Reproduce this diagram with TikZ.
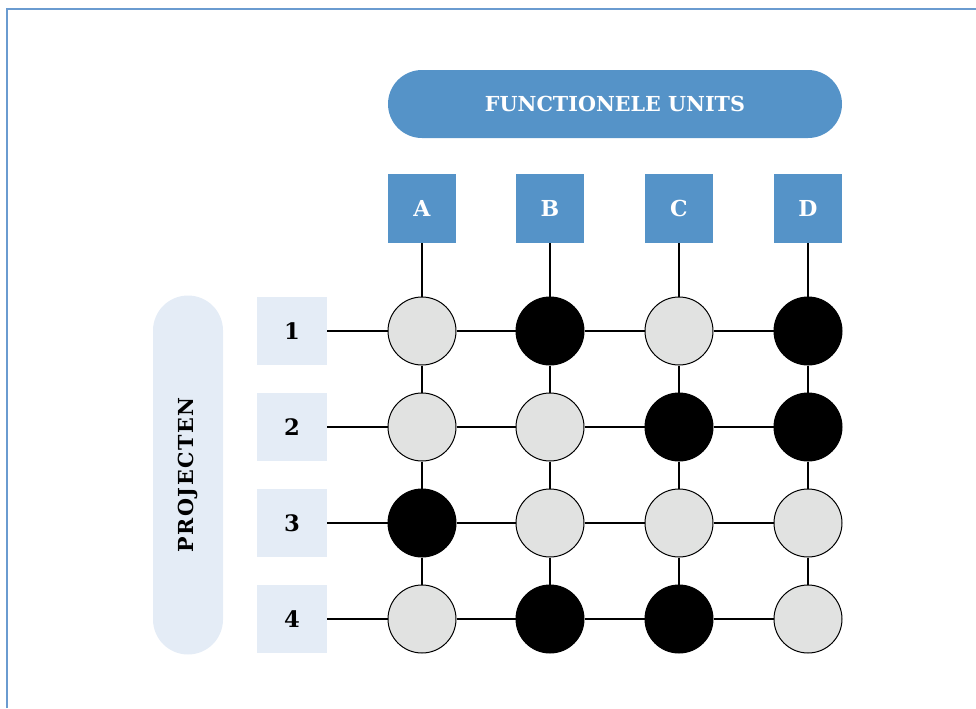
\documentclass[tikz,border=0pt]{standalone}
\usepackage{fontspec}
\setmainfont{DejaVu Serif}
\newfontfamily\spacedfont[LetterSpace=7]{DejaVu Serif}
\usepackage{tikz}

\definecolor{unitblue}{HTML}{5593C8}
\definecolor{projblue}{HTML}{E4ECF6}
\definecolor{dotgrey}{HTML}{E1E2E1}
\definecolor{framecol}{HTML}{6A9BD0}

\begin{document}
\begin{tikzpicture}[x=0.75pt, y=-0.75pt,
  font=\bfseries,
  unit/.style={fill=unitblue, text=white, minimum width=51pt, minimum height=51.75pt, inner sep=0pt, font=\bfseries\fontsize{16.5}{18}\selectfont},
  proj/.style={fill=projblue, text=black, minimum width=52.5pt, minimum height=51pt, inner sep=0pt, font=\bfseries\fontsize{17}{19}\selectfont},
  dot/.style={draw, circle, line width=0.75pt, minimum size=51pt, inner sep=0pt, fill=dotgrey},
  full/.style={dot, fill=black},
  link/.style={line width=0.9pt}]
\useasboundingbox (0,0) rectangle (976,708);
\draw[framecol, line width=1.2pt] (7,708) -- (7,9) -- (976,9);

% headers
\node[fill=unitblue, text=white, rounded corners=25.5pt, minimum width=340.5pt, minimum height=51pt, font=\bfseries\fontsize{15.5}{17}\selectfont] (units) at (615,104) {FUNCTIONELE UNITS};
\node[fill=projblue, rounded corners=26.25pt, minimum width=52.5pt, minimum height=269.25pt] (projects) at (188,475) {};
\node[rotate=90, font=\spacedfont\bfseries\fontsize{15.5}{17}\selectfont] (projlabel) at (188,475) {PROJECTEN};

% columns
\node[unit] (ua) at (422,208.5) {A};
\node[unit] (ub) at (550,208.5) {B};
\node[unit] (uc) at (679,208.5) {C};
\node[unit] (ud) at (808,208.5) {D};

% rows
\node[proj] (p1) at (292,331) {1};
\node[proj] (p2) at (292,427) {2};
\node[proj] (p3) at (292,523) {3};
\node[proj] (p4) at (292,619) {4};

% matrix of dots
\node[dot]  (a1) at (422,331) {};
\node[full] (b1) at (550,331) {};
\node[dot]  (c1) at (679,331) {};
\node[full] (d1) at (808,331) {};

\node[dot]  (a2) at (422,427) {};
\node[dot]  (b2) at (550,427) {};
\node[full] (c2) at (679,427) {};
\node[full] (d2) at (808,427) {};

\node[full] (a3) at (422,523) {};
\node[dot]  (b3) at (550,523) {};
\node[dot]  (c3) at (679,523) {};
\node[dot]  (d3) at (808,523) {};

\node[dot]  (a4) at (422,619) {};
\node[full] (b4) at (550,619) {};
\node[full] (c4) at (679,619) {};
\node[dot]  (d4) at (808,619) {};

% connections
\draw[link] (p1) -- (a1) -- (b1) -- (c1) -- (d1);
\draw[link] (p2) -- (a2) -- (b2) -- (c2) -- (d2);
\draw[link] (p3) -- (a3) -- (b3) -- (c3) -- (d3);
\draw[link] (p4) -- (a4) -- (b4) -- (c4) -- (d4);
\draw[link] (ua) -- (a1) -- (a2) -- (a3) -- (a4);
\draw[link] (ub) -- (b1) -- (b2) -- (b3) -- (b4);
\draw[link] (uc) -- (c1) -- (c2) -- (c3) -- (c4);
\draw[link] (ud) -- (d1) -- (d2) -- (d3) -- (d4);
\end{tikzpicture}
\end{document}
